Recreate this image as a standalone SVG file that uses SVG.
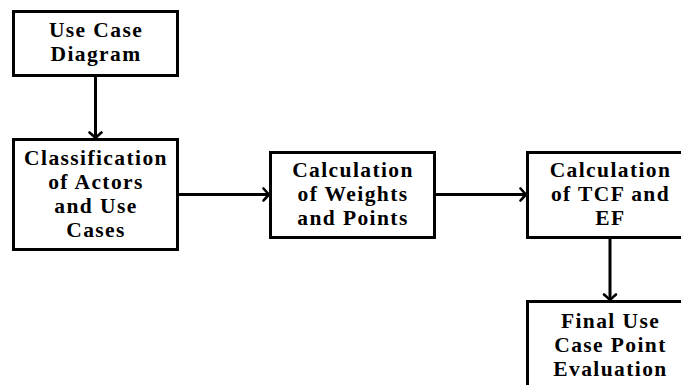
<svg xmlns="http://www.w3.org/2000/svg" width="681" height="385" viewBox="0 0 681 385">
<style>
.box{fill:#fff;stroke:#000;stroke-width:3}
.lbl{font-family:"Liberation Serif","Times New Roman",serif;font-weight:bold;font-size:21.5px;letter-spacing:1.4px;text-anchor:middle;fill:#000}
.edge{stroke:#000;stroke-width:3;fill:none}
</style>
<defs>
<marker id="arr" markerUnits="userSpaceOnUse" markerWidth="16" markerHeight="16" viewBox="-10 -8 12 16" refX="0" refY="0" orient="auto">
<path d="M -5 -6 Q -1 -1.5 0.5 0 Q -1 1.5 -5 6" fill="none" stroke="#000" stroke-width="2.6" stroke-linecap="round"/>
</marker>
</defs>
<rect width="681" height="385" fill="#fff"/>
<g id="connectors">
<line class="edge" x1="95.5" y1="75.5" x2="95.5" y2="137.5" marker-end="url(#arr)"/>
<line class="edge" x1="177.5" y1="194.5" x2="268.5" y2="194.5" marker-end="url(#arr)"/>
<line class="edge" x1="434.5" y1="194.5" x2="525.5" y2="194.5" marker-end="url(#arr)"/>
<line class="edge" x1="610" y1="237.5" x2="610" y2="299.5" marker-end="url(#arr)"/>
</g>
<g id="use-case-diagram">
<rect class="box" x="13.5" y="11.5" width="164" height="64"/>
<text class="lbl" x="96" y="37">Use Case</text>
<text class="lbl" x="96" y="61">Diagram</text>
</g>
<g id="classification">
<rect class="box" x="13.5" y="139.5" width="164" height="110"/>
<text class="lbl" x="96" y="164.5">Classification</text>
<text class="lbl" x="96" y="188.5">of Actors</text>
<text class="lbl" x="96" y="212.5">and Use</text>
<text class="lbl" x="96" y="236.5">Cases</text>
</g>
<g id="weights">
<rect class="box" x="270.5" y="152.5" width="164" height="85"/>
<text class="lbl" x="353" y="177">Calculation</text>
<text class="lbl" x="353" y="201">of Weights</text>
<text class="lbl" x="353" y="225">and Points</text>
</g>
<g id="tcf-ef">
<rect class="box" x="527.5" y="152.5" width="165" height="85"/>
<text class="lbl" x="610.5" y="177">Calculation</text>
<text class="lbl" x="610.5" y="201">of TCF and</text>
<text class="lbl" x="610.5" y="225">EF</text>
</g>
<g id="final-ucp">
<rect class="box" x="527.5" y="301.5" width="165" height="92"/>
<text class="lbl" x="610.5" y="328">Final Use</text>
<text class="lbl" x="610.5" y="352">Case Point</text>
<text class="lbl" x="610.5" y="376">Evaluation</text>
</g>
</svg>
